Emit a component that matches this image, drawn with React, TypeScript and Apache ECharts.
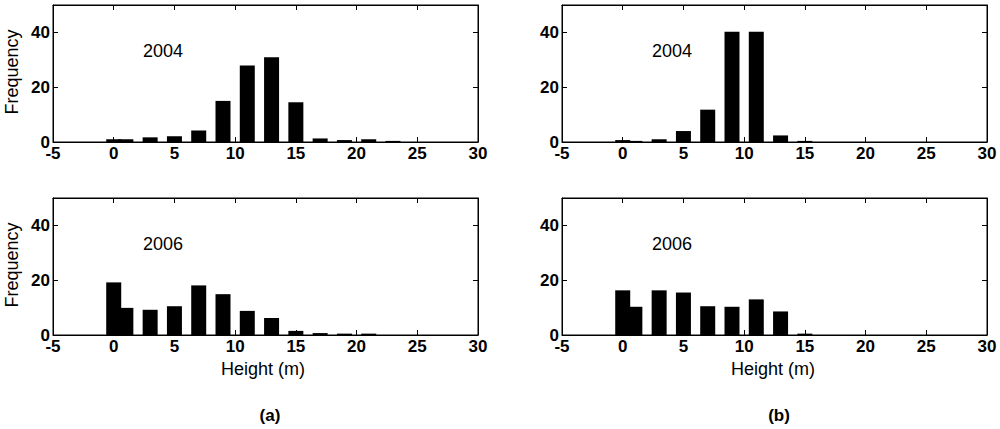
import React, { useEffect, useRef } from "react";
import * as echarts from "echarts";

// Bin centers (m) and frequencies
const binsMain = [1, 3, 5, 7, 9, 11, 13, 15, 17, 19, 21, 23];
const binZero = [0];

const a2004 = [1.0, 1.7, 2.1, 4.2, 15.0, 27.9, 30.9, 14.5, 1.3, 0.7, 1.0, 0.4];
const a2004Zero = [1.0];
const a2006 = [9.9, 9.2, 10.5, 18.1, 14.9, 8.8, 6.2, 1.5, 0.7, 0.5, 0.5, 0];
const a2006Zero = [19.2];

const b2004 = [0.4, 1.0, 4.0, 11.8, 40.2, 40.2, 2.4, 0.4, 0, 0, 0, 0];
const b2004Zero = [0.7];
const b2006 = [10.3, 16.3, 15.5, 10.5, 10.3, 13.0, 8.6, 0.5, 0, 0, 0, 0];
const b2006Zero = [16.3];

const xTicks = { min: -5, max: 30, interval: 5 };
const yTicks = { min: 0, max: 50, interval: 20 };

const panels = [
  { left: 53, top: 5, main: a2004, zero: a2004Zero, year: "2004" },
  { left: 53, top: 198, main: a2006, zero: a2006Zero, year: "2006" },
  { left: 562, top: 5, main: b2004, zero: b2004Zero, year: "2004" },
  { left: 562, top: 198, main: b2006, zero: b2006Zero, year: "2006" },
];

const FONT = "'Liberation Sans', Arial, sans-serif";

export default function App() {
  const ref = useRef<HTMLDivElement>(null);
  useEffect(() => {
    if (!ref.current) return;
    const chart = echarts.init(ref.current, undefined, { renderer: "svg" });
    const W = 425;
    const H = 137;
    const grids: any[] = [];
    const xAxes: any[] = [];
    const yAxes: any[] = [];
    const series: any[] = [];
    const graphics: any[] = [];
    panels.forEach((p, i) => {
      grids.push({
        left: p.left,
        top: p.top,
        width: W,
        height: H,
        show: true,
        borderColor: "#000",
        borderWidth: 1,
        backgroundColor: "transparent",
      });
      const tick = { show: true, inside: true, length: 5, lineStyle: { color: "#000", width: 1 } };
      xAxes.push({
        type: "value",
        gridIndex: i,
        position: "bottom",
        ...xTicks,
        axisLine: { show: true, onZero: false, lineStyle: { color: "#000", width: 1 } },
        axisTick: tick,
        splitLine: { show: false },
        axisLabel: {
          color: "#000",
          fontFamily: FONT,
          fontWeight: "bold",
          fontSize: 17,
          lineHeight: 12,
          margin: 5,
        },
      });
      xAxes.push({
        type: "value",
        gridIndex: i,
        position: "top",
        ...xTicks,
        axisLine: { show: true, onZero: false, lineStyle: { color: "#000", width: 1 } },
        axisTick: tick,
        splitLine: { show: false },
        axisLabel: { show: false },
      });
      yAxes.push({
        type: "value",
        gridIndex: i,
        position: "left",
        ...yTicks,
        axisLine: { show: true, onZero: false, lineStyle: { color: "#000", width: 1 } },
        axisTick: tick,
        splitLine: { show: false },
        axisLabel: {
          color: "#000",
          fontFamily: FONT,
          fontWeight: "bold",
          fontSize: 17,
          lineHeight: 11,
          margin: 3,
          showMaxLabel: false,
        },
      });
      yAxes.push({
        type: "value",
        gridIndex: i,
        position: "right",
        ...yTicks,
        axisLine: { show: true, onZero: false, lineStyle: { color: "#000", width: 1 } },
        axisTick: tick,
        splitLine: { show: false },
        axisLabel: { show: false },
      });
      series.push({
        type: "bar",
        xAxisIndex: 2 * i,
        yAxisIndex: 2 * i,
        barWidth: 15,
        barGap: "-100%",
        itemStyle: { color: "#000" },
        data: binsMain.map((x, k) => [x, p.main[k]]),
      });
      series.push({
        type: "bar",
        xAxisIndex: 2 * i,
        yAxisIndex: 2 * i,
        barWidth: 15,
        barGap: "-100%",
        itemStyle: { color: "#000" },
        data: binZero.map((x, k) => [x, p.zero[k]]),
      });
      graphics.push({
        type: "text",
        x: p.left + 110,
        y: p.top + 46,
        style: {
          text: p.year,
          fill: "#000",
          font: `18px ${FONT}`,
          align: "center",
          verticalAlign: "middle",
        },
      });
    });
    // axis titles and panel letters
    [72, 265].forEach((cy) => {
      graphics.push({
        type: "text",
        x: 12,
        y: cy,
        rotation: Math.PI / 2,
        style: {
          text: "Frequency",
          fill: "#000",
          font: `18px ${FONT}`,
          align: "center",
          verticalAlign: "middle",
        },
      });
    });
    [263, 773].forEach((cx) => {
      graphics.push({
        type: "text",
        x: cx,
        y: 369,
        style: {
          text: "Height (m)",
          fill: "#000",
          font: `18px ${FONT}`,
          align: "center",
          verticalAlign: "middle",
        },
      });
    });
    [
      { t: "(a)", x: 270 },
      { t: "(b)", x: 779 },
    ].forEach((o) => {
      graphics.push({
        type: "text",
        x: o.x,
        y: 415,
        style: {
          text: o.t,
          fill: "#000",
          font: `bold 17px ${FONT}`,
          align: "center",
          verticalAlign: "middle",
        },
      });
    });
    chart.setOption({
      animation: false,
      backgroundColor: "#fff",
      grid: grids,
      xAxis: xAxes,
      yAxis: yAxes,
      series,
      graphic: graphics,
    });
    return () => chart.dispose();
  }, []);
  return (
    <div
      ref={ref}
      style={{ position: "fixed", left: 0, top: 0, width: 1000, height: 429, background: "#fff" }}
    />
  );
}
